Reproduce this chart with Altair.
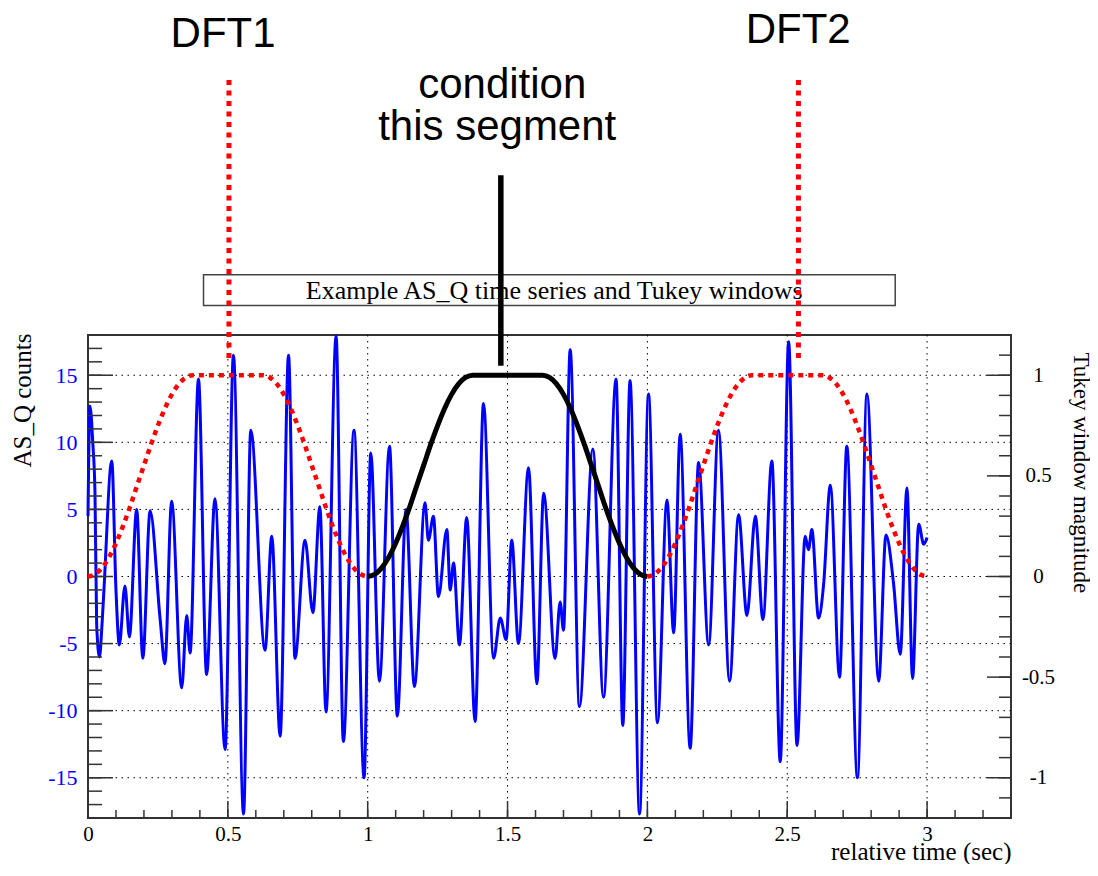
import altair as alt
import pandas as pd

# ---------------- data ----------------
# AS_Q counts: turning points of the blue trace (time in s, counts)
t_blue = [0.0, 0.007, 0.017, 0.025, 0.031, 0.041, 0.050, 0.057, 0.085, 0.100,
          0.112, 0.132, 0.148, 0.174, 0.196, 0.222, 0.258, 0.275, 0.299, 0.335,
          0.353, 0.365, 0.395, 0.424, 0.454, 0.490, 0.520, 0.556, 0.582, 0.633,
          0.657, 0.687, 0.717, 0.740, 0.776, 0.804, 0.829, 0.851, 0.887, 0.913,
          0.951, 0.987, 1.011, 1.042, 1.078, 1.106, 1.137, 1.167, 1.205, 1.217,
          1.235, 1.253, 1.283, 1.295, 1.307, 1.328, 1.354, 1.384, 1.414, 1.450,
          1.474, 1.495, 1.515, 1.539, 1.575, 1.605, 1.629, 1.670, 1.688, 1.700,
          1.724, 1.757, 1.805, 1.843, 1.888, 1.912, 1.938, 1.972, 2.004, 2.036,
          2.070, 2.094, 2.117, 2.153, 2.183, 2.219, 2.254, 2.294, 2.326, 2.356,
          2.386, 2.413, 2.445, 2.475, 2.505, 2.535, 2.564, 2.576, 2.588, 2.612,
          2.630, 2.654, 2.687, 2.713, 2.751, 2.785, 2.827, 2.853, 2.880, 2.904,
          2.928, 2.948, 2.970, 2.988, 3.0]
v_blue = [4.5, 12.7, 10.0, 6.2, -3.6, -6.0, -3.6, -1.0, 8.6, -1.0,
          -5.1, -0.7, -4.5, 5.0, -6.1, 4.9, -3.2, -6.5, 5.6, -8.3,
          -2.9, -5.7, 14.7, -7.3, 5.8, -12.9, 16.5, -17.7, 10.9, -5.5,
          3.0, -11.9, 16.5, -6.1, 2.7, -2.7, 5.2, -10.1, 17.9, -12.3,
          10.9, -15.0, 9.2, -7.8, 9.7, -10.4, 5.0, -8.2, 5.5, 2.7,
          4.5, -1.5, 3.5, -1.0, 1.0, -5.1, 4.4, -10.8, 12.9, -6.1,
          -3.1, -4.7, 2.7, -5.0, 8.1, -8.0, 6.2, -6.1, -1.9, -4.0,
          16.9, -9.7, 9.5, -9.0, 14.7, -11.1, 14.6, -17.7, 13.6, -10.9,
          5.7, -4.2, 10.6, -12.8, 8.5, -5.1, 10.9, -7.8, 4.6, -2.9,
          4.5, -3.2, 8.6, -13.8, 17.5, -12.6, 3.0, 2.0, 3.5, -3.1,
          -0.6, 6.8, -7.5, 9.7, -15.0, 13.6, -7.8, 3.1, -0.5, -5.8,
          6.6, -7.6, 3.9, 2.4, 2.9]

# Tukey window shape (time within the 1 s segment, magnitude)
win_t = [0, 0.025, 0.05, 0.075, 0.1, 0.125, 0.15, 0.175, 0.2, 0.225, 0.25, 0.275,
         0.3, 0.325, 0.35, 0.375, 0.625, 0.65, 0.675, 0.7, 0.725, 0.75, 0.775,
         0.8, 0.825, 0.85, 0.875, 0.9, 0.925, 0.95, 0.975, 1.0]
win_w = [0, 0.011, 0.043, 0.095, 0.165, 0.25, 0.345, 0.45, 0.552, 0.655, 0.75, 0.835,
         0.905, 0.957, 0.989, 1.0, 1.0, 0.989, 0.957, 0.905, 0.835, 0.75, 0.655,
         0.552, 0.45, 0.345, 0.25, 0.165, 0.095, 0.043, 0.011, 0]
red_starts = [0, 2]     # DFT1, DFT2 windows
black_starts = [1]      # conditioning segment

# axes / grid
x_major = [0, 0.5, 1, 1.5, 2, 2.5, 3]
x_minor = [round(i * 0.1, 1) for i in range(34)]
x_grid = [0.5, 1, 1.5, 2, 2.5, 3]
yl_major = [-15, -10, -5, 0, 5, 10, 15]
yl_minor = list(range(-18, 19))
yr_major = [-1, -0.5, 0, 0.5, 1]
yr_minor = [round(i * 0.1, 1) for i in range(-12, 13)]

# annotations (in data coordinates of time / counts)
ann_text = ["DFT1", "DFT2", "condition", "this segment"]
ann_text_t = [0.483, 2.539, 1.481, 1.463]
ann_text_v = [39.5, 39.8, 35.7, 32.5]
red_rule_t = [0.504, 2.54]
red_rule_top = [37.0, 37.0]
red_rule_bot = [16.1, 16.1]
black_rule_t = [1.476]
black_rule_top = [29.9]
black_rule_bot = [15.7]
title_text = "Example AS_Q time series and Tukey windows"
box_t = [0.413, 2.886]
box_v = [20.2, 22.5]
title_pos = [1.667, 20.66]

# ---------------- chart ----------------
W, H = 923, 483
serif = "Liberation Serif"
sans = "Liberation Sans"
frame = "#333333"

xs = alt.Scale(domain=[0, 3.3], nice=False, zero=False)
yls = alt.Scale(domain=[-18, 18], nice=False, zero=False)
yrs = alt.Scale(domain=[-1.2, 1.2], nice=False, zero=False)

x_axis = alt.Axis(values=x_major, labelExpr="'' + datum.value", ticks=False, tickSize=0,
                  domain=False, grid=False, labelFont=serif, labelFontSize=21,
                  labelColor="black", labelPadding=5, labelFlush=False,
                  title="relative time (sec)", titleFont=serif, titleFontSize=25,
                  titleFontWeight="normal", titleColor="black", titleX=923, titleY=41,
                  titleAlign="right", titleBaseline="alphabetic")
yl_axis = alt.Axis(orient="left", values=yl_major, labelExpr="'' + datum.value",
                   ticks=False, tickSize=0, domain=False, grid=False, labelFont=serif,
                   labelFontSize=22, labelColor="#0000ff", labelPadding=11,
                   title="AS_Q counts", titleFont=serif, titleFontSize=25,
                   titleFontWeight="normal", titleColor="black", titleAngle=270,
                   titleAlign="right", titleBaseline="alphabetic", titleX=-58, titleY=-2)
yr_axis = alt.Axis(orient="right", values=yr_major, labelExpr="'' + datum.value",
                   ticks=False, tickSize=0, domain=False, grid=False, labelFont=serif,
                   labelFontSize=21, labelColor="black", labelPadding=27,
                   labelAlign="center", title="Tukey window magnitude", titleFont=serif,
                   titleFontSize=23, titleFontWeight="normal", titleColor="black",
                   titleAngle=90, titleAlign="left", titleBaseline="alphabetic",
                   titleX=62, titleY=17)

def X(field):
    return alt.X(field, type="quantitative", scale=xs, axis=x_axis)

def YL(field):
    return alt.Y(field, type="quantitative", scale=yls, axis=yl_axis)

def YR(field):
    return alt.Y(field, type="quantitative", scale=yrs, axis=yr_axis)

dot = [1.5, 4.5]

grid_v = alt.Chart(pd.DataFrame({"t": x_grid})).mark_rule(
    color="black", strokeWidth=1, strokeDash=dot).encode(x=X("t"))
grid_h = alt.Chart(pd.DataFrame({"v": yl_major})).mark_rule(
    color="black", strokeWidth=1, strokeDash=dot).encode(y=YL("v"))

blue = alt.Chart(pd.DataFrame({"t": t_blue, "v": v_blue})).mark_line(
    color="#0000ff", strokeWidth=3, strokeJoin="round", interpolate="monotone").encode(
    x=X("t"), y=YL("v"))

xt_major = alt.Chart(pd.DataFrame({"t": x_major})).mark_rule(
    color=frame, strokeWidth=1.5).encode(x=X("t"), y=alt.value(H), y2=alt.value(H - 17))
xt_minor = alt.Chart(pd.DataFrame({"t": x_minor})).mark_rule(
    color=frame, strokeWidth=1.5).encode(x=X("t"), y=alt.value(H), y2=alt.value(H - 8))
yt_major = alt.Chart(pd.DataFrame({"v": yl_major})).mark_rule(
    color=frame, strokeWidth=1.5).encode(y=YL("v"), x=alt.value(0), x2=alt.value(25))
yt_minor = alt.Chart(pd.DataFrame({"v": yl_minor})).mark_rule(
    color=frame, strokeWidth=1.5).encode(y=YL("v"), x=alt.value(0), x2=alt.value(14))

box = alt.Chart(pd.DataFrame({"t": [box_t[0]], "t2": [box_t[1]],
                              "v": [box_v[0]], "v2": [box_v[1]]})).mark_rect(
    fill="white", stroke="#444444", strokeWidth=1.5).encode(
    x=X("t"), x2="t2", y=YL("v"), y2="v2")
box_txt = alt.Chart(pd.DataFrame({"t": [title_pos[0]], "v": [title_pos[1]],
                                  "s": [title_text]})).mark_text(
    font=serif, fontSize=26, color="black", align="center", baseline="alphabetic").encode(
    x=X("t"), y=YL("v"), text="s")

red_rules = alt.Chart(pd.DataFrame({"t": red_rule_t, "v": red_rule_top,
                                    "v2": red_rule_bot})).mark_rule(
    color="#ff0000", strokeWidth=5, strokeDash=[5, 5.5]).encode(
    x=X("t"), y=YL("v"), y2="v2")
black_rule = alt.Chart(pd.DataFrame({"t": black_rule_t, "v": black_rule_top,
                                     "v2": black_rule_bot})).mark_rule(
    color="black", strokeWidth=5.5).encode(x=X("t"), y=YL("v"), y2="v2")
ann = alt.Chart(pd.DataFrame({"t": ann_text_t, "v": ann_text_v, "s": ann_text})).mark_text(
    font=sans, fontSize=42, color="black", align="center", baseline="alphabetic").encode(
    x=X("t"), y=YL("v"), text="s")

left = alt.layer(grid_v, grid_h, blue, xt_minor, xt_major, yt_minor, yt_major,
                 box, box_txt, red_rules, black_rule, ann)

red_rows = [{"seg": s, "t": s + a, "w": b} for s in red_starts for a, b in zip(win_t, win_w)]
black_rows = [{"seg": s, "t": s + a, "w": b} for s in black_starts for a, b in zip(win_t, win_w)]

red_win = alt.Chart(pd.DataFrame(red_rows)).mark_line(
    color="#ff0000", strokeWidth=4.5, strokeDash=[5, 5], interpolate="monotone").encode(
    x=X("t"), y=YR("w"), detail="seg:N")
black_win = alt.Chart(pd.DataFrame(black_rows)).mark_line(
    color="black", strokeWidth=5, interpolate="monotone").encode(
    x=X("t"), y=YR("w"), detail="seg:N")
rt_major = alt.Chart(pd.DataFrame({"w": yr_major})).mark_rule(
    color=frame, strokeWidth=1.5).encode(y=YR("w"), x=alt.value(W), x2=alt.value(W - 24))
rt_minor = alt.Chart(pd.DataFrame({"w": yr_minor})).mark_rule(
    color=frame, strokeWidth=1.5).encode(y=YR("w"), x=alt.value(W), x2=alt.value(W - 12))

right = alt.layer(rt_minor, rt_major, black_win, red_win)

chart = alt.layer(left, right).resolve_scale(y="independent").properties(
    width=W, height=H,
    autosize=alt.AutoSizeParams(type="none"),
    padding={"left": 80, "top": 327, "right": 79, "bottom": 46},
    background="white",
).configure_view(stroke=frame, strokeWidth=2)

chart.save("out.html", embed_options={"renderer": "svg", "actions": False})
